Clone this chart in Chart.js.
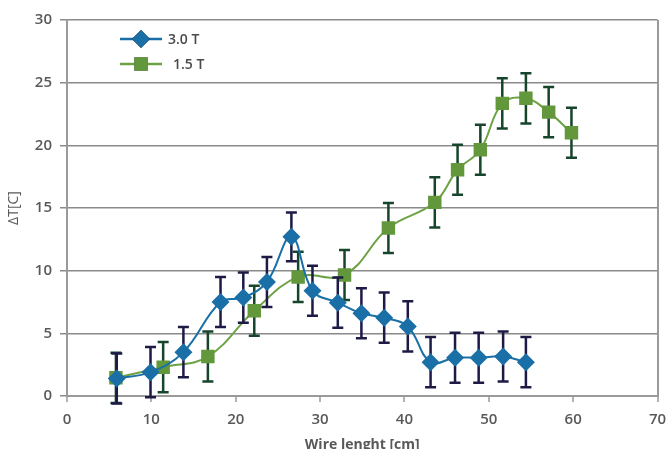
<!DOCTYPE html>
<html>
<head>
<meta charset="utf-8">
<script src="https://cdn.jsdelivr.net/npm/chart.js@4.4.1/dist/chart.umd.min.js"></script>
<style>
  html, body { margin: 0; padding: 0; background: #ffffff; }
  #wrap { width: 667px; height: 449px; position: relative; }
</style>
</head>
<body>
<div id="wrap"><canvas id="c"></canvas></div>
<script>
// ---- data ----
const seriesNames = ['3.0 T', '1.5 T'];
const xTitle = 'Wire lenght [cm]';
const yTitle = 'ΔT[C]';

const blueX   = [5.9, 9.9, 13.8, 18.2, 20.9, 23.7, 26.6, 29.1, 32.1, 34.9, 37.6, 40.4, 43.1, 46.0, 48.8, 51.7, 54.4];
const blueY   = [1.4, 1.9, 3.5, 7.5, 7.85, 9.1, 12.7, 8.4, 7.45, 6.6, 6.25, 5.55, 2.7, 3.05, 3.05, 3.15, 2.7];
const blueErr = [2.0, 2.0, 2.0, 2.0, 2.0, 2.0, 1.95, 2.0, 2.0, 2.0, 2.0, 2.0, 2.0, 2.0, 2.0, 2.0, 2.0];

const greenX   = [5.8, 11.4, 16.7, 22.2, 27.4, 32.9, 38.1, 43.6, 46.3, 49.0, 51.6, 54.4, 57.1, 59.8];
const greenY   = [1.45, 2.3, 3.15, 6.8, 9.5, 9.65, 13.4, 15.45, 18.05, 19.65, 23.35, 23.75, 22.65, 21.0];
const greenErr = [2.0, 2.0, 2.0, 2.0, 2.0, 2.0, 2.0, 2.0, 2.0, 2.0, 2.0, 2.0, 2.0, 2.0];

const xTicks = [0, 10, 20, 30, 40, 50, 60, 70];
const yTicks = [0, 5, 10, 15, 20, 25, 30];

const BLUE = '#1a6fa6', BLUE_ERR = '#1d1b45';
const GREEN = '#62973b', GREEN_LINE = '#6ca244', GREEN_ERR = '#17452c';
const GRID = '#8a8a8a', AXIS = '#9a9a9a', TXT = '#595959';
const FONT = "'Open Sans', 'DejaVu Sans', sans-serif";

const toPts = (xs, ys) => xs.map((x, i) => ({x: x, y: ys[i]}));

// error bars drawn before each dataset (so markers sit on top)
const errorBars = {
  id: 'errorBars',
  beforeDatasetDraw(chart, args) {
    const ds = chart.data.datasets[args.index];
    if (!ds.errors) return;
    const xs = chart.scales.x, ys = chart.scales.y;
    const ctx = chart.ctx;
    ctx.save();
    ctx.strokeStyle = ds.errorColor;
    ctx.lineWidth = 2.5;
    ds.data.forEach((p, i) => {
      const e = ds.errors[i];
      const px = xs.getPixelForValue(p.x);
      const top = ys.getPixelForValue(p.y + e);
      const bot = ys.getPixelForValue(p.y - e);
      ctx.beginPath();
      ctx.moveTo(px, top); ctx.lineTo(px, bot);
      ctx.moveTo(px - 5.5, top); ctx.lineTo(px + 5.5, top);
      ctx.moveTo(px - 5.5, bot); ctx.lineTo(px + 5.5, bot);
      ctx.stroke();
    });
    ctx.restore();
  }
};

// custom legend inside the plot area
const innerLegend = {
  id: 'innerLegend',
  afterDraw(chart) {
    const ctx = chart.ctx;
    const items = chart.data.datasets;
    ctx.save();
    items.forEach((ds, i) => {
      const y = 39 + i * 25;
      const x0 = 120, x1 = 162;
      ctx.strokeStyle = ds.borderColor;
      ctx.lineWidth = 2.5;
      ctx.beginPath(); ctx.moveTo(x0, y); ctx.lineTo(x1, y); ctx.stroke();
      Chart.helpers.drawPoint(ctx, {
        pointStyle: ds.pointStyle, radius: ds.legendRadius, borderWidth: 0, rotation: 0
      }, (x0 + x1) / 2, y);
      ctx.fillStyle = ds.pointBackgroundColor;
      ctx.fill();
      ctx.fillStyle = '#4a4a4a';
      ctx.font = "600 14px " + FONT;
      ctx.textBaseline = 'middle';
      ctx.textAlign = 'left';
      ctx.fillText(ds.label, i === 0 ? 168 : 173, y + 1);
    });
    ctx.restore();
  }
};

new Chart(document.getElementById('c'), {
  type: 'line',
  data: {
    datasets: [
      {
        label: seriesNames[0],
        data: toPts(blueX, blueY),
        errors: blueErr,
        errorColor: BLUE_ERR,
        borderColor: BLUE,
        borderWidth: 2,
        pointStyle: 'rectRot',
        pointRadius: 9,
        legendRadius: 9,
        pointBackgroundColor: BLUE,
        pointBorderColor: BLUE,
        pointBorderWidth: 0,
        tension: 0.4,
        fill: false
      },
      {
        label: seriesNames[1],
        data: toPts(greenX, greenY),
        errors: greenErr,
        errorColor: GREEN_ERR,
        borderColor: GREEN_LINE,
        borderWidth: 2,
        pointStyle: 'rect',
        pointRadius: 9.5,
        legendRadius: 9.5,
        pointBackgroundColor: GREEN,
        pointBorderColor: GREEN,
        pointBorderWidth: 0,
        tension: 0.4,
        fill: false
      }
    ]
  },
  options: {
    responsive: true,
    maintainAspectRatio: false,
    animation: false,
    devicePixelRatio: 1,
    layout: { padding: { top: 20, right: 0, left: 0, bottom: 0 } },
    plugins: {
      legend: { display: false },
      tooltip: { enabled: false }
    },
    scales: {
      x: {
        type: 'linear',
        min: 0, max: 70,
        afterBuildTicks: (s) => { s.ticks = xTicks.map(v => ({value: v})); },
        afterFit: (s) => { s.height = 53; s.paddingRight = 9; s.paddingLeft = 0; },
        ticks: { color: TXT, font: { family: FONT, size: 15, weight: '600' }, padding: 9, maxRotation: 0 },
        grid: {
          drawOnChartArea: true,
          color: (c) => (c.tick && c.tick.value === 70) ? AXIS : 'rgba(0,0,0,0)',
          lineWidth: 2,
          tickColor: AXIS,
          tickLength: 6,
          tickWidth: 1.5
        },
        border: { display: true, color: AXIS, width: 2 },
        title: { display: true, text: xTitle, color: TXT, font: { family: FONT, size: 14, weight: '700' }, padding: { top: 0, bottom: -4 } }
      },
      y: {
        min: 0, max: 30,
        afterBuildTicks: (s) => { s.ticks = yTicks.map(v => ({value: v})); },
        afterFit: (s) => { s.width = 67; },
        ticks: { color: TXT, font: { family: FONT, size: 15, weight: '600' }, padding: 8 },
        grid: { color: GRID, lineWidth: 1.5, tickColor: GRID, tickLength: 7 },
        border: { display: true, color: AXIS, width: 2 },
        title: { display: true, text: yTitle, color: TXT, font: { family: FONT, size: 14, weight: '400' }, padding: { top: 6, bottom: 0 } }
      }
    }
  },
  plugins: [errorBars, innerLegend]
});
</script>
</body>
</html>
